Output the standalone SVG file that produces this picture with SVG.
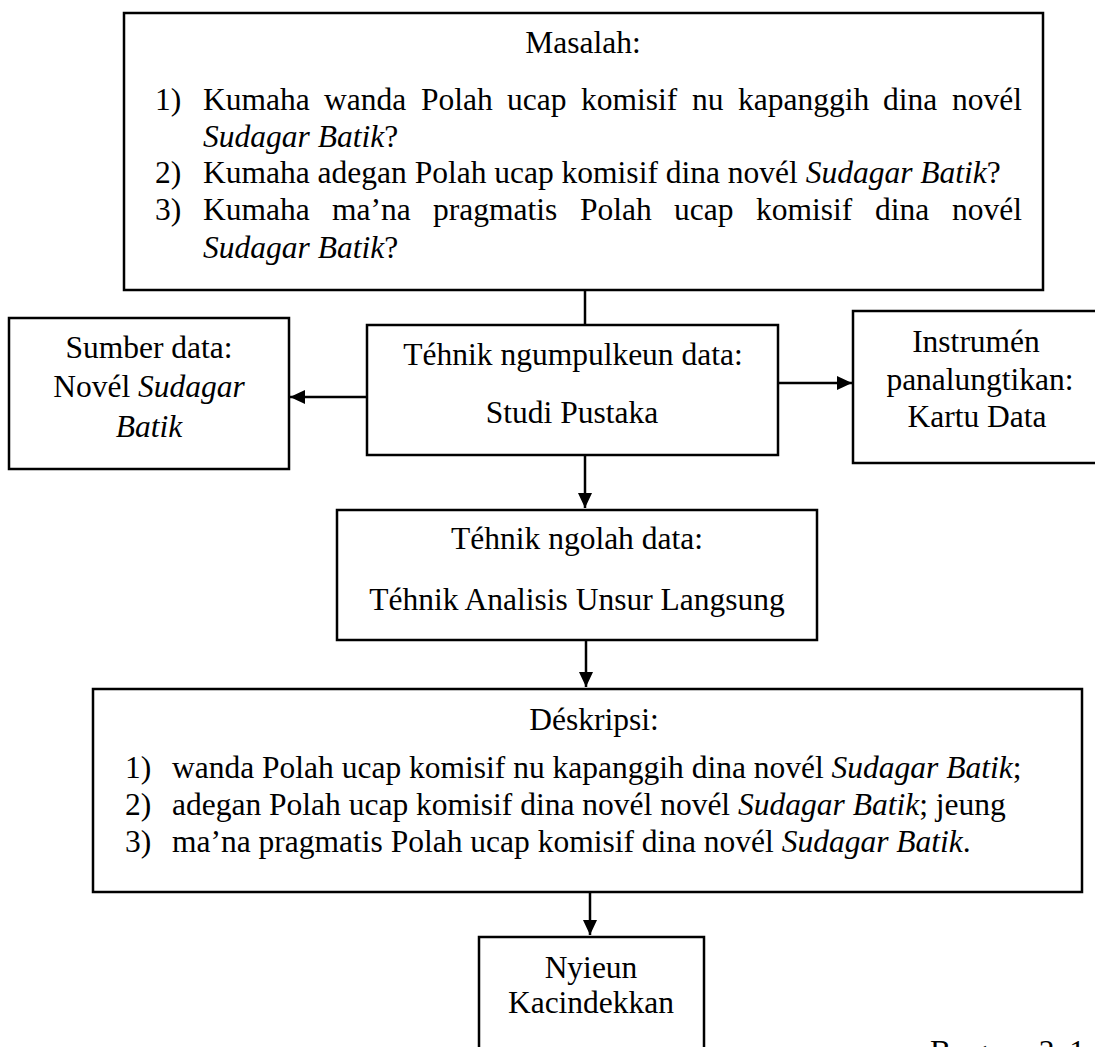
<svg xmlns="http://www.w3.org/2000/svg" width="1095" height="1047" viewBox="0 0 1095 1047">
<style>
  .box { fill: #fff; stroke: #000; stroke-width: 2.5; }
  .t { font-family: "Liberation Serif", "Times New Roman", serif; font-size: 31.5px; fill: #000; }
  .c { text-anchor: middle; }
  .i { font-style: italic; }
  .ln { stroke: #000; stroke-width: 2.5; fill: none; }
</style>
<defs>
  <marker id="ah" markerUnits="userSpaceOnUse" markerWidth="16" markerHeight="14" refX="15" refY="7" orient="auto">
    <path d="M0,0 L15,7 L0,14 z" fill="#000"/>
  </marker>
</defs>
<rect width="1095" height="1047" fill="#fff"/>

<g id="masalah">
  <rect class="box" x="124" y="13" width="919" height="277"/>
  <text class="t c" x="583" y="53">Masalah:</text>
  <text class="t" x="155" y="110">1)</text>
  <text class="t" y="110"><tspan x="203">Kumaha</tspan><tspan x="324">wanda</tspan><tspan x="421">Polah</tspan><tspan x="507">ucap</tspan><tspan x="581">komisif</tspan><tspan x="692">nu</tspan><tspan x="738">kapanggih</tspan><tspan x="883">dina</tspan><tspan x="952">novél</tspan></text>
  <text class="t" x="203" y="147"><tspan class="i">Sudagar Batik</tspan>?</text>
  <text class="t" x="155" y="183">2)</text>
  <text class="t" x="203" y="183">Kumaha adegan Polah ucap komisif dina novél <tspan class="i">Sudagar Batik</tspan>?</text>
  <text class="t" x="155" y="220">3)</text>
  <text class="t" y="220"><tspan x="203">Kumaha</tspan><tspan x="332">ma’na</tspan><tspan x="433">pragmatis</tspan><tspan x="580">Polah</tspan><tspan x="674">ucap</tspan><tspan x="756">komisif</tspan><tspan x="875">dina</tspan><tspan x="952">novél</tspan></text>
  <text class="t" x="203" y="258"><tspan class="i">Sudagar Batik</tspan>?</text>
</g>

<g id="sumber">
  <rect class="box" x="9" y="318" width="280" height="151"/>
  <text class="t c" x="149" y="358">Sumber data:</text>
  <text class="t c" x="149" y="397">Novél <tspan class="i">Sudagar</tspan></text>
  <text class="t c i" x="149" y="437">Batik</text>
</g>

<g id="ngumpulkeun">
  <rect class="box" x="367" y="325" width="411" height="130"/>
  <text class="t c" x="573" y="365">Téhnik ngumpulkeun data:</text>
  <text class="t c" x="572" y="423">Studi Pustaka</text>
</g>

<g id="instrumen">
  <rect class="box" x="853" y="311" width="260" height="152"/>
  <text class="t c" x="976" y="352">Instrumén</text>
  <text class="t c" x="980" y="390">panalungtikan:</text>
  <text class="t c" x="977" y="427">Kartu Data</text>
</g>

<g id="ngolah">
  <rect class="box" x="337" y="510" width="480" height="130"/>
  <text class="t c" x="577" y="549">Téhnik ngolah data:</text>
  <text class="t c" x="577" y="610">Téhnik Analisis Unsur Langsung</text>
</g>

<g id="deskripsi">
  <rect class="box" x="93" y="689" width="989" height="203"/>
  <text class="t c" x="594" y="730">Déskripsi:</text>
  <text class="t" x="125" y="778">1)</text>
  <text class="t" x="172" y="778">wanda Polah ucap komisif nu kapanggih dina novél <tspan class="i">Sudagar Batik</tspan>;</text>
  <text class="t" x="125" y="815">2)</text>
  <text class="t" x="172" y="815">adegan Polah ucap komisif dina novél novél <tspan class="i">Sudagar Batik</tspan>; jeung</text>
  <text class="t" x="125" y="852">3)</text>
  <text class="t" x="172" y="852">ma’na pragmatis Polah ucap komisif dina novél <tspan class="i">Sudagar Batik</tspan>.</text>
</g>

<g id="kacindekkan">
  <rect class="box" x="479" y="937" width="225" height="150"/>
  <text class="t c" x="591" y="978">Nyieun</text>
  <text class="t c" x="591" y="1013">Kacindekkan</text>
</g>

<g id="caption">
  <text class="t" x="930" y="1062" textLength="155" lengthAdjust="spacing">Bagan 3.1</text>
</g>

<g id="connectors">
  <line class="ln" x1="585" y1="290" x2="585" y2="325"/>
  <line class="ln" x1="367" y1="397" x2="290" y2="397" marker-end="url(#ah)"/>
  <line class="ln" x1="778" y1="383" x2="852" y2="383" marker-end="url(#ah)"/>
  <line class="ln" x1="585" y1="455" x2="585" y2="508" marker-end="url(#ah)"/>
  <line class="ln" x1="586" y1="640" x2="586" y2="687" marker-end="url(#ah)"/>
  <line class="ln" x1="590" y1="892" x2="590" y2="935" marker-end="url(#ah)"/>
</g>
</svg>
